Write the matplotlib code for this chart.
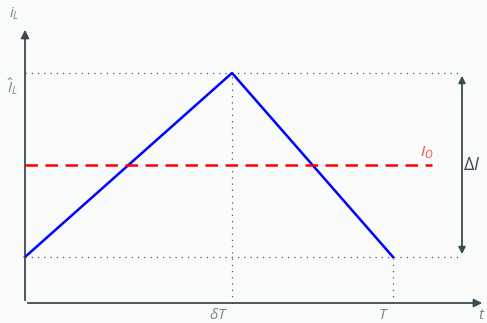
import matplotlib
matplotlib.use("Agg")
import matplotlib.pyplot as plt

plt.rcParams["mathtext.fontset"] = "custom"
plt.rcParams["mathtext.it"] = "Open Sans:italic"
plt.rcParams["mathtext.rm"] = "Open Sans"

# inductor current waveform over one switching period
t_pts = [0.0, 0.5625, 1.0]        # start, delta*T, T
i_pts = [0.25, 1.25, 0.25]        # valley, peak, valley
i_out = 0.75                      # average output current
t_end = 1.25
i_top = 1.5

axis_col = "#3d4a50"
text_col = "#7a868c"
bg = "#f9fafa"

fig = plt.figure(figsize=(4.87, 3.23), dpi=100, facecolor=bg)
ax = fig.add_axes([0, 0, 1, 1])
ax.set_facecolor(bg)
ax.set_xlim(-25 / 368, 462 / 368)
ax.set_ylim(-20 / 184, 303 / 184)
ax.axis("off")

# axes with arrow heads
ax.annotate("", xy=(t_end, 0), xytext=(0, 0),
            arrowprops=dict(arrowstyle="-|>", color=axis_col, lw=1.3, mutation_scale=12))
ax.annotate("", xy=(0, i_top), xytext=(0, 0),
            arrowprops=dict(arrowstyle="-|>", color=axis_col, lw=1.3, mutation_scale=12))

# dotted guides
dot = dict(color="#555555", lw=0.9, ls=(0, (1, 4)))
x_span = 1.1875
ax.plot([0, x_span], [i_pts[1], i_pts[1]], **dot)
ax.plot([0, x_span], [i_pts[0], i_pts[0]], **dot)
ax.plot([t_pts[1], t_pts[1]], [0, i_pts[1]], **dot)
ax.plot([t_pts[2], t_pts[2]], [0, i_pts[2]], **dot)

# ripple
ax.plot(t_pts, i_pts, color="blue", lw=1.8)
ax.plot([0, 1.106], [i_out, i_out], color="red", lw=1.8, ls=(0, (5, 3)))

# delta I arrow
ax.annotate("", xy=(x_span, i_pts[1]), xytext=(x_span, i_pts[0]),
            arrowprops=dict(arrowstyle="<|-|>", color=axis_col, lw=1.3, mutation_scale=10))

fs = 11
ax.text(-0.03, 1.57, r"$i_L$", color=text_col, fontsize=fs, ha="center", va="center")
ax.text(-0.035, i_pts[1] - 0.075, r"$\hat{I}_L$", color=text_col, fontsize=fs, ha="center", va="center")
ax.text(t_pts[1] - 0.035, -0.065, r"$\delta T$", color=text_col, fontsize=fs, ha="center", va="center")
ax.text(t_pts[2] - 0.027, -0.065, r"$T$", color=text_col, fontsize=fs, ha="center", va="center")
ax.text(1.24, -0.065, r"$t$", color=text_col, fontsize=fs, ha="center", va="center")
ax.text(1.092, i_out + 0.065, r"$I_O$", color="#ff4040", fontsize=fs, ha="center", va="center")
ax.text(1.214, i_out, r"$\Delta I$", color=axis_col, fontsize=fs + 2, ha="center", va="center")

fig.savefig("out.png", dpi=100, facecolor=bg)
